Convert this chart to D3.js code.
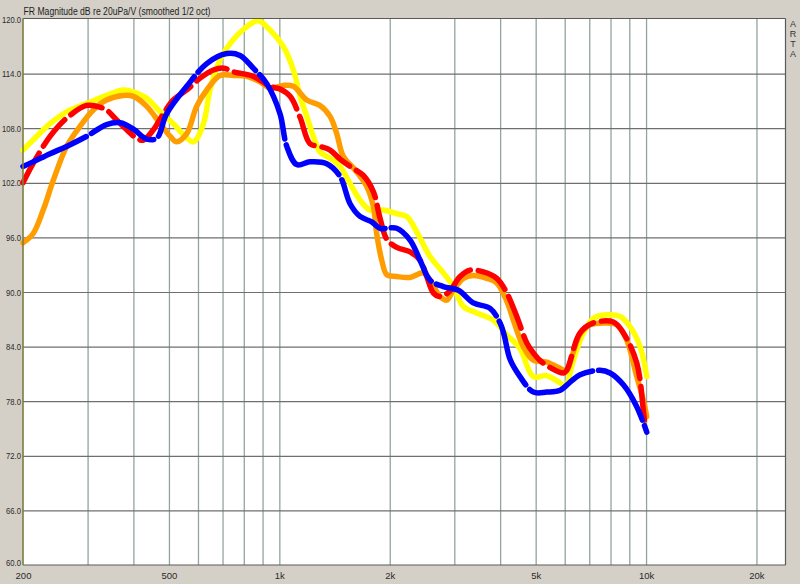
<!DOCTYPE html>
<html><head><meta charset="utf-8">
<script src="https://cdn.jsdelivr.net/npm/d3@7"></script>
<style>
html,body{margin:0;padding:0;background:#d4d0c8;overflow:hidden}
svg{display:block}
text{font-family:"Liberation Sans",Arial,sans-serif}
</style></head>
<body><svg id="c" width="800" height="584"></svg>
<script>
const title = "FR Magnitude dB re 20uPa/V (smoothed 1/2 oct)";
const sideLabel = "ARTA";
const yTicks = [60, 66, 72, 78, 84, 90, 96, 102, 108, 114, 120];
const xLabelTicks = [200, 500, 1000, 2000, 5000, 10000, 20000];
const xLabelText = ["200", "500", "1k", "2k", "5k", "10k", "20k"];
const xGridTicks = [300,400,500,600,700,800,900,1000,2000,3000,4000,5000,6000,7000,8000,9000,10000,20000];

const blueFreq = [200,213,237,263,298,338,368,400,435,463,493,559,634,719,781,849,924,1004,1048,1116,1212,1347,1464,1559,1660,1786,1882,2090,2272,2419,2576,2800,3078,3381,3755,3999,4100,4257,4532,4928,5360,5831,6207,6607,7491,7976,8672,9433,10044];
const blueDb   = [103.8,104.3,105.2,106.0,107.1,108.4,108.6,107.9,106.8,106.9,109.6,112.6,115.1,116.2,116.0,114.6,112.9,109.6,106.0,104.0,104.3,104.1,102.7,99.7,98.3,97.7,97.0,97.0,95.7,93.5,91.3,90.6,90.2,88.8,88.2,86.6,85.3,82.6,80.7,79.0,79.0,79.2,80.1,80.9,81.4,81.1,79.8,77.4,74.6];

const redFreq = [200,213,237,263,298,318,338,360,384,408,426,453,483,514,559,608,661,704,749,849,943,1004,1070,1139,1212,1291,1375,1464,1559,1695,1805,1882,1963,2090,2272,2419,2523,2630,2744,2900,3111,3311,3600,3916,4170,4441,4729,4928,5196,5953,6077,6607,7181,8143,8672,9433,9831,9938];
const redDb   = [102.0,104.1,107.1,109.1,110.5,110.4,110.0,108.9,107.8,106.9,106.7,107.8,109.6,111.1,112.2,113.5,114.4,114.6,114.2,113.7,112.6,112.3,111.5,109.2,106.3,106.0,105.6,104.6,103.8,102.8,101.0,98.1,95.8,94.9,94.4,93.5,91.7,89.9,89.5,90.0,91.7,92.4,92.2,91.5,89.9,87.3,84.4,83.3,82.3,81.1,81.4,85.5,86.6,86.7,85.5,82.2,77.0,75.2];

const orangeFreq = [200,213,227,242,263,286,311,338,375,400,435,473,504,525,559,595,634,689,749,815,886,943,1025,1092,1188,1291,1375,1434,1494,1610,1731,1805,1843,1902,1963,2090,2272,2470,2576,2744,2861,2982,3176,3381,3677,3916,4170,4347,4628,4928,5360,5831,6077,6273,6607,7036,7647,8320,8859,9433,9831,10044];
const orangeDb   = [95.4,96.4,99.0,102.3,106.0,108.2,110.0,111.1,111.6,111.5,110.4,108.5,107.1,106.5,107.4,110.4,112.2,113.8,113.8,113.7,113.1,112.4,112.7,112.6,111.1,110.5,109.3,107.4,104.9,103.4,101.6,99.4,96.4,93.5,91.9,91.7,91.6,92.1,91.3,89.5,89.1,90.2,91.5,91.8,91.5,91.0,89.0,86.9,84.0,82.5,82.3,81.6,81.4,82.9,85.4,86.4,86.6,86.4,84.7,80.7,78.1,76.3];

const yellowFreq = [200,213,237,263,298,338,375,400,435,473,514,547,583,621,647,689,734,806,875,943,1025,1092,1139,1188,1238,1291,1375,1464,1559,1660,1768,1921,2090,2226,2370,2576,2801,2982,3176,3453,3833,4170,4532,4928,5360,5831,6013,6336,6745,7181,7811,8494,9045,9632,10044];
const yellowDb   = [105.6,106.7,108.5,109.8,110.7,111.6,112.2,112.0,111.3,109.8,108.5,107.3,106.5,108.5,112.2,115.5,117.3,119.0,119.8,118.8,117.0,114.4,111.5,109.3,107.1,105.4,104.7,103.8,101.9,100.1,99.0,99.0,98.6,98.3,96.6,93.9,92.1,90.6,88.4,87.7,86.9,85.3,83.8,80.7,80.8,80.0,79.6,82.5,85.5,87.1,87.5,87.3,86.2,84.0,80.7];

const series = [
  {name:"yellow", freq:yellowFreq, db:yellowDb, color:"#ffff00", dash:null},
  {name:"orange", freq:orangeFreq, db:orangeDb, color:"#ff9d00", dash:null},
  {name:"red",    freq:redFreq,    db:redDb,    color:"#ff0000", dash:"34,8"},
  {name:"blue",   freq:blueFreq,   db:blueDb,   color:"#0000ff", dash:"70,6"}
];

const L = 23, R = 785.5, T = 19, B = 565;
const svg = d3.select("#c");
const x = d3.scaleLog().domain([200, 24000]).range([L, R]);
const y = d3.scaleLinear().domain([60, 120]).range([B, T]);

svg.append("rect").attr("x", L).attr("y", T - 0.5).attr("width", R - L).attr("height", B - T + 0.5).attr("fill", "#ffffff");

// vertical grid
const gx = svg.append("g").attr("transform", `translate(0,${B})`)
  .call(d3.axisBottom(x).tickValues(xGridTicks).tickSize(-(B - T)).tickFormat(""));
gx.select(".domain").remove();
gx.selectAll(".tick line").attr("stroke", "#93a59c").attr("stroke-width", 1.3);

// horizontal grid + y labels
const fmt = d3.format(".1f");
const gy = svg.append("g").attr("transform", `translate(${L},0)`)
  .call(d3.axisLeft(y).tickValues(yTicks).tickSize(-(R - L)).tickPadding(2).tickFormat(fmt));
gy.select(".domain").remove();
gy.selectAll(".tick line").attr("stroke", d => (d === 60 || d === 120) ? "none" : "#6f6f6f").attr("stroke-width", 1.2);
gy.selectAll(".tick text").attr("font-size", 9.5).attr("fill", "#2a2a2a")
  .attr("font-family", "Liberation Sans, Arial, sans-serif")
  .attr("dy", d => d === 60 ? "0.1em" : "0.32em")
  .attr("textLength", d => fmt(d).length === 5 ? 19 : 15)
  .attr("lengthAdjust", "spacingAndGlyphs");

// x labels
const gl = svg.append("g").attr("transform", `translate(0,${B})`)
  .call(d3.axisBottom(x).tickValues(xLabelTicks).tickSize(0).tickPadding(7).tickFormat(d => xLabelText[xLabelTicks.indexOf(d)]));
gl.select(".domain").remove();
gl.selectAll(".tick text").attr("font-size", 9.5).attr("fill", "#2a2a2a").attr("font-family", "Liberation Sans, Arial, sans-serif");

// curves
const line = d3.line().x(d => x(d[0])).y(d => y(d[1])).curve(d3.curveCatmullRom.alpha(0.5));
series.forEach(s => {
  const pts = s.freq.map((f, i) => [f, s.db[i]]);
  svg.append("path").datum(pts).attr("d", line).attr("fill", "none")
    .attr("stroke", s.color).attr("stroke-width", 5.5)
    .attr("stroke-linecap", "round").attr("stroke-linejoin", "round")
    .attr("stroke-dasharray", s.dash);
});

// frame
svg.append("line").attr("x1", L).attr("x2", R).attr("y1", T - 0.5).attr("y2", T - 0.5).attr("stroke", "#5a5a5a").attr("stroke-width", 1.2);
svg.append("line").attr("x1", L).attr("x2", R).attr("y1", B).attr("y2", B).attr("stroke", "#5a5a5a").attr("stroke-width", 1.2);
svg.append("line").attr("x1", R).attr("x2", R).attr("y1", T - 0.5).attr("y2", B).attr("stroke", "#5a5a5a").attr("stroke-width", 1.2);
svg.append("line").attr("x1", L).attr("x2", L).attr("y1", T - 0.5).attr("y2", B).attr("stroke", "#7d7d3c").attr("stroke-width", 1.6);

// title
svg.append("text").attr("x", L + 0.5).attr("y", 15).attr("font-size", 10).attr("fill", "#1e1e1e")
  .attr("textLength", 187).attr("lengthAdjust", "spacingAndGlyphs").text(title);

// ARTA (upright vertical text, single element)
svg.append("text").attr("x", 793).attr("y", 19)
  .style("writing-mode", "vertical-rl").style("text-orientation", "upright")
  .attr("font-size", 9).attr("fill", "#333").text(sideLabel);
</script></body></html>
